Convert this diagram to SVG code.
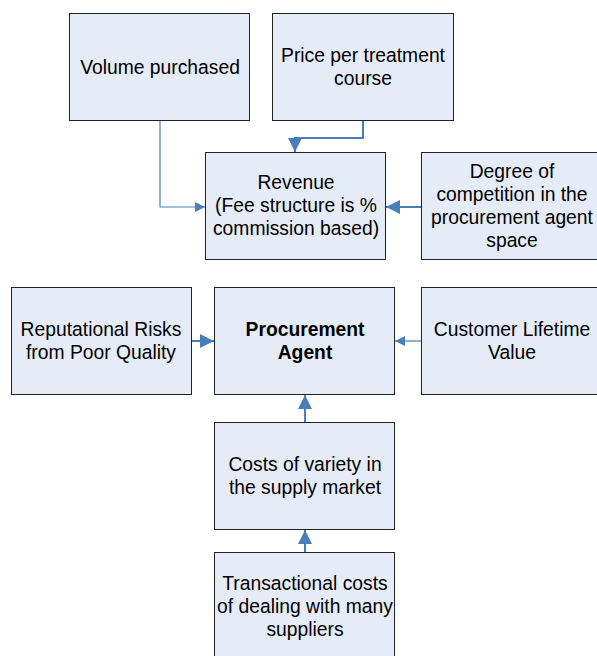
<svg xmlns="http://www.w3.org/2000/svg" width="597" height="656" viewBox="0 0 597 656">
<style>
.box{fill:#E6ECF7;stroke:#222;stroke-width:1}
text{font-family:"Liberation Sans",Arial,sans-serif;font-size:19.3px;fill:#000;text-anchor:middle}
.b{font-weight:bold}
.c{fill:none;stroke:#4A7EBB}
.t1{stroke-width:1.2}
.t2{stroke-width:2}
</style>
<defs>
<marker id="ah" viewBox="0 0 10 10" refX="10" refY="5" markerWidth="10" markerHeight="10" markerUnits="userSpaceOnUse" orient="auto">
<path d="M0,0 L10,5 L0,10 Z" fill="#4A7EBB"/>
</marker>
<marker id="ah2" viewBox="0 0 10 10" refX="10" refY="5" markerWidth="7" markerHeight="7" orient="auto">
<path d="M0,0 L10,5 L0,10 Z" fill="#4A7EBB"/>
</marker>
</defs>
<g id="connectors">
<path class="c t1" d="M160,121 V207 H205" marker-end="url(#ah)"/>
<path class="c t2" d="M363,121 V138 H295 V152" marker-end="url(#ah2)"/>
<path class="c t2" d="M421.5,207 H386" marker-end="url(#ah2)"/>
<path class="c t2" d="M192,341 H214" marker-end="url(#ah2)"/>
<path class="c t1" d="M421.5,341 H395" marker-end="url(#ah)"/>
<path class="c t2" d="M305,422 V395" marker-end="url(#ah2)"/>
<path class="c t2" d="M305,552 V530" marker-end="url(#ah2)"/>
</g>
<g id="volume"><rect class="box" x="69.5" y="13.5" width="180" height="107"/><text x="160" y="74">Volume purchased</text></g>
<g id="price"><rect class="box" x="272.5" y="13.5" width="181" height="107"/><text x="363" y="62">Price per treatment</text><text x="363" y="85">course</text></g>
<g id="revenue"><rect class="box" x="205.5" y="152.5" width="180" height="107"/><text x="296" y="189">Revenue</text><text x="296" y="212">(Fee structure is %</text><text x="296" y="235">commission based)</text></g>
<g id="degree"><rect class="box" x="421.5" y="152.5" width="182" height="107"/><text x="512" y="178">Degree of</text><text x="512" y="201">competition in the</text><text x="512" y="224">procurement agent</text><text x="512" y="247">space</text></g>
<g id="reputational"><rect class="box" x="11.5" y="287.5" width="180" height="107"/><text x="101" y="336">Reputational Risks</text><text x="101" y="359">from Poor Quality</text></g>
<g id="agent"><rect class="box" x="214.5" y="287.5" width="180" height="107"/><text class="b" x="305" y="336">Procurement</text><text class="b" x="305" y="359">Agent</text></g>
<g id="customer"><rect class="box" x="421.5" y="287.5" width="182" height="107"/><text x="512" y="336">Customer Lifetime</text><text x="512" y="359">Value</text></g>
<g id="variety"><rect class="box" x="214.5" y="422.5" width="180" height="107"/><text x="305" y="471">Costs of variety in</text><text x="305" y="494">the supply market</text></g>
<g id="transactional"><rect class="box" x="214.5" y="552.5" width="180" height="110"/><text x="305" y="590">Transactional costs</text><text x="305" y="613">of dealing with many</text><text x="305" y="636">suppliers</text></g>
</svg>
